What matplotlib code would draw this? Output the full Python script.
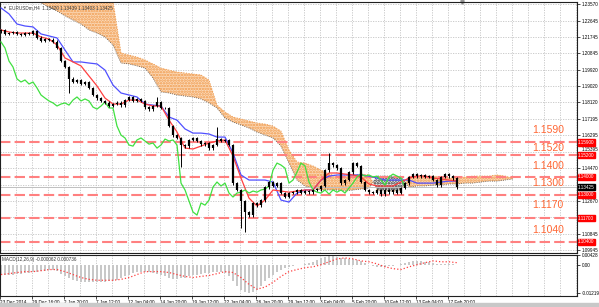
import numpy as np
import matplotlib.pyplot as plt

plt.rcParams['font.family'] = ['Liberation Sans', 'DejaVu Sans']
plt.rcParams['hatch.linewidth'] = 1.2

# EURUSD H4, one candle per 2 bars (close prices)
closes = [
    1.2213, 1.2191, 1.2196, 1.2202, 1.2191, 1.2185, 1.2196, 1.2191, 1.2207, 1.2169,
    1.2152, 1.2163, 1.2158, 1.2147, 1.2113, 1.2041, 1.2008, 1.1942, 1.1925, 1.1936,
    1.1914, 1.1925, 1.1892, 1.1853, 1.1836, 1.1820, 1.1809, 1.1792, 1.1803, 1.1809,
    1.1797, 1.1825, 1.1842, 1.1820, 1.1831, 1.1820, 1.1786, 1.1775, 1.1792, 1.1814,
    1.1781, 1.1781, 1.1681, 1.1631, 1.1615, 1.1576, 1.1570, 1.1604, 1.1615, 1.1598,
    1.1581, 1.1587, 1.1559, 1.1576, 1.1609, 1.1598, 1.1604, 1.1576, 1.1365, 1.1327,
    1.1266, 1.1205, 1.1188, 1.1255, 1.1243, 1.1271, 1.1343, 1.1371, 1.1349, 1.1365,
    1.1310, 1.1288, 1.1310, 1.1315, 1.1327, 1.1310, 1.1321, 1.1315, 1.1327, 1.1332,
    1.1349, 1.1437, 1.1476, 1.1465, 1.1448, 1.1365, 1.1382, 1.1426, 1.1476, 1.1460,
    1.1371, 1.1327, 1.1315, 1.1310, 1.1327, 1.1304, 1.1327, 1.1315, 1.1327, 1.1310,
    1.1338, 1.1365, 1.1399, 1.1415, 1.1404, 1.1410, 1.1399, 1.1404, 1.1382, 1.1354,
    1.1399, 1.1415, 1.1404, 1.1393, 1.13425]
first_open = 1.2207
wick = 0.0008
high_spikes = [(39, 1.1842), (54, 1.1676), (82, 1.1532)]
low_spikes = [(17, 1.1864), (45, 1.1454), (60, 1.1116), (61, 1.1094)]

# ichimoku lines, every 4 bars
tenkan = [1.2213, 1.2202, 1.2196, 1.2196, 1.2196, 1.2174, 1.2163, 1.2130, 1.2058, 1.2036,
          1.2014, 1.1958, 1.1903, 1.1836, 1.1803, 1.1803, 1.1825, 1.1825, 1.1803, 1.1792,
          1.1792, 1.1714, 1.1648, 1.1559, 1.1554, 1.1570, 1.1587, 1.1598, 1.1604, 1.1515,
          1.1393, 1.1282, 1.1238, 1.1271, 1.1327, 1.1321, 1.1315, 1.1321, 1.1327, 1.1327,
          1.1382, 1.1421, 1.1421, 1.1415, 1.1410, 1.1399, 1.1360, 1.1349, 1.1349, 1.1349,
          1.1371, 1.1393, 1.1404, 1.1404, 1.1393, 1.1388, 1.1382, 1.1376]
kijun = [1.2335, 1.2302, 1.2246, 1.2235, 1.2230, 1.2191, 1.2180, 1.2169, 1.2102, 1.2036,
         1.2036, 1.2030, 1.2025, 1.1991, 1.1908, 1.1864, 1.1853, 1.1842, 1.1803, 1.1797,
         1.1792, 1.1731, 1.1714, 1.1665, 1.1642, 1.1642, 1.1637, 1.1620, 1.1620, 1.1532,
         1.1410, 1.1382, 1.1382, 1.1382, 1.1371, 1.1271, 1.1260, 1.1310, 1.1327, 1.1327,
         1.1382, 1.1404, 1.1410, 1.1410, 1.1410, 1.1410, 1.1404, 1.1393, 1.1382, 1.1382,
         1.1382, 1.1382, 1.1365, 1.1365, 1.1365, 1.1371, 1.1376, 1.1376]
# senkou spans, from bar 16, every 4 bars
span_a = [1.2545, 1.2545, 1.2545, 1.2545, 1.2545, 1.2545, 1.2545, 1.2545, 1.2545, 1.2545,
          1.2435, 1.2086, 1.2074, 1.2063, 1.2047, 1.2025, 1.2002, 1.1991, 1.1980, 1.1975,
          1.1969, 1.1964, 1.1936, 1.1797, 1.1759, 1.1731, 1.1720, 1.1709, 1.1698, 1.1692,
          1.1681, 1.1653, 1.1548, 1.1482, 1.1476, 1.1460, 1.1437, 1.1415, 1.1404, 1.1404,
          1.1410, 1.1415, 1.1410, 1.1327, 1.1321, 1.1321, 1.1327, 1.1399, 1.1399, 1.1404,
          1.1404, 1.1399, 1.1393, 1.1393, 1.1399, 1.1404, 1.1404, 1.1404, 1.1410, 1.1404,
          1.1393]
span_b = [1.2379, 1.2363, 1.2340, 1.2318, 1.2291, 1.2268, 1.2246, 1.2213, 1.2196, 1.2174,
          1.2130, 1.2030, 1.2025, 1.2014, 1.2002, 1.1947, 1.1870, 1.1864, 1.1853, 1.1847,
          1.1842, 1.1831, 1.1809, 1.1781, 1.1725, 1.1703, 1.1687, 1.1670, 1.1648, 1.1631,
          1.1615, 1.1570, 1.1476, 1.1382, 1.1349, 1.1338, 1.1327, 1.1327, 1.1327, 1.1321,
          1.1327, 1.1332, 1.1338, 1.1404, 1.1404, 1.1404, 1.1399, 1.1343, 1.1349, 1.1349,
          1.1354, 1.1354, 1.1360, 1.1360, 1.1365, 1.1365, 1.1371, 1.1376, 1.1376, 1.1382,
          1.1388]

# MACD(12,26,9): main every 2 bars, signal every 4 bars
macd_hist = [-0.0043, -0.0043, -0.0047, -0.0043, -0.0039, -0.0039, -0.0034, -0.0034, -0.0030,
             -0.0030, -0.0026, -0.0026, -0.0021, -0.0021, -0.0026,
             -0.0039, -0.0051, -0.0060, -0.0068, -0.0073,
             -0.0077, -0.0077, -0.0077, -0.0077, -0.0077, -0.0077, -0.0077, -0.0073, -0.0073, -0.0068,
             -0.0060, -0.0051, -0.0043, -0.0034, -0.0030,
             -0.0030, -0.0030, -0.0030, -0.0034, -0.0039, -0.0047, -0.0051,
             -0.0060, -0.0064, -0.0064, -0.0060, -0.0056, -0.0051,
             -0.0047, -0.0043, -0.0039, -0.0034, -0.0034, -0.0030, -0.0030, -0.0030, -0.0034,
             -0.0051, -0.0073, -0.0094, -0.0111, -0.0120,
             -0.0124, -0.0120, -0.0111, -0.0094, -0.0073,
             -0.0056, -0.0043, -0.0030, -0.0021, -0.0013,
             -0.0009, -0.0004, 0.0,
             0.0, 0.0004, 0.0009, 0.0013, 0.0021, 0.0030, 0.0034, 0.0039, 0.0039, 0.0034,
             0.0030, 0.0030, 0.0026, 0.0026, 0.0021, 0.0017, 0.0009, 0.0, -0.0004, -0.0009,
             -0.0009, -0.0009, -0.0004, -0.0004, 0.0, 0.0004, 0.0009, 0.0013, 0.0017, 0.0017,
             0.0017, 0.0013, 0.0013, 0.0009, 0.0004, 0.0004, 0.0004, 0.0004, 0.0004, 0.0]
macd_signal = [-0.0043, -0.0039, -0.0034, -0.0030, -0.0030, -0.0026, -0.0021, -0.0021, -0.0030, -0.0043,
               -0.0056, -0.0064, -0.0068, -0.0068, -0.0068, -0.0064, -0.0056, -0.0043, -0.0030, -0.0030,
               -0.0030, -0.0034, -0.0043, -0.0051, -0.0056, -0.0051, -0.0047, -0.0039, -0.0030, -0.0034,
               -0.0056, -0.0086, -0.0107, -0.0098, -0.0077, -0.0051, -0.0030, -0.0021, -0.0013, -0.0009,
               0.0, 0.0013, 0.0026, 0.0030, 0.0026, 0.0017, 0.0013, 0.0004, -0.0009, -0.0017,
               -0.0021, -0.0009, 0.0, 0.0009, 0.0017, 0.0013, 0.0013, 0.0009]

levels = [1.1590, 1.1520, 1.1400, 1.1300, 1.1170, 1.1040]
level_label_dy = [7, 2, 6, 7, 8, 7]   # px above the line
price_ticks = [1.23570, 1.22645, 1.21745, 1.20845, 1.19920, 1.19020, 1.18120, 1.17195,
               1.16295, 1.15395, 1.14470, 1.13570, 1.12670, 1.11770, 1.10845, 1.09945]
hidden_ticks = [1.13570, 1.11770]   # covered by the price boxes
time_labels = ['23 Dec 2014', '29 Dec 16:00', '2 Jan 20:00', '7 Jan 12:00', '12 Jan 04:00',
               '14 Jan 20:00', '19 Jan 12:00', '22 Jan 04:00', '26 Jan 20:00', '29 Jan 12:00',
               '3 Feb 04:00', '5 Feb 20:00', '10 Feb 12:00', '13 Feb 04:00', '17 Feb 20:00']
last_price = 1.13425
header = 'EURUSDm,H4  1.13420 1.13439 1.13403 1.13425'

ymin, ymax = 1.0978, 1.2368

fig = plt.figure(figsize=(5.99, 3.07), dpi=100)
ax = fig.add_axes([0.0, 0.1759, 0.9633, 0.8176])
ax2 = fig.add_axes([0.0, 0.0358, 0.9633, 0.1336], sharex=ax)

small = 3.3
grid_kw = dict(color='#c4c4c4', lw=0.6, ls=(0, (1.5, 1.5)), zorder=0)

# grid
for gx in np.arange(7.5, 288, 8):
    ax.axvline(gx, **grid_kw)
    ax2.axvline(gx, **grid_kw)
for gy in price_ticks:
    ax.axhline(gy, **grid_kw)

# cloud
cloud_x = 16 + np.arange(len(span_a)) * 4
sa = np.clip(np.array(span_a), ymin, ymax + 0.0005)
sb = np.clip(np.array(span_b), ymin, ymax + 0.0005)
up = sa >= sb
ax.fill_between(cloud_x, sa, sb, where=up, interpolate=True, facecolor='#fbd9b8',
                edgecolor='#f09a4c', hatch='......', linewidth=0, zorder=1)
ax.fill_between(cloud_x, sa, sb, where=~up, interpolate=True, facecolor='#e4e4e4',
                edgecolor='#303030', hatch='......', linewidth=0, zorder=1)
ax.plot(cloud_x, sa, color='#f09a4c', lw=0.7, ls=':', zorder=1)
ax.plot(cloud_x, sb, color='#505050', lw=0.6, ls=':', zorder=1)

# level lines
for lv, dy in zip(levels, level_label_dy):
    ax.axhline(lv, color='#ff8080', lw=1.5, dashes=(5, 2), zorder=2)
    ax.annotate('%.4f' % lv, xy=(0.95, lv), xycoords=ax.get_yaxis_transform(),
                xytext=(0, dy * 0.72), textcoords='offset points', ha='center', va='bottom',
                fontsize=7.5, color='#ff6633', zorder=6)
ax.axhline(last_price, color='#c0c0c0', lw=0.7, zorder=2)

# candles
cx = np.arange(len(closes)) * 2
c = np.array(closes)
o = np.array([first_open] + closes[:-1])
hi = np.maximum(o, c) + wick
lo = np.minimum(o, c) - wick
for i, v in high_spikes:
    hi[i] = v
for i, v in low_spikes:
    lo[i] = v
ax.vlines(cx, lo, hi, color='black', lw=0.7, zorder=4)
ax.vlines(cx, np.minimum(o, c), np.maximum(o, c), color='black', lw=1.6, zorder=4)

# ichimoku lines
lx = np.arange(len(tenkan)) * 4
ax.plot(lx, kijun, color='#5050ff', lw=0.9, zorder=3)
ax.plot(lx, tenkan, color='#ff4040', lw=0.9, zorder=3)
ax.plot(cx[13:] - 26, c[13:], color='#40e040', lw=0.9, zorder=3)

ax.set_xlim(-0.5, 288)
ax.set_ylim(ymin, ymax)
ax.yaxis.tick_right()
ax.set_yticks(price_ticks)
ax.set_yticklabels(['' if t in hidden_ticks else '%.5f' % t for t in price_ticks])
ax.tick_params(axis='y', labelsize=small, length=2, width=0.5, pad=1.5)
ax.tick_params(axis='x', bottom=False, labelbottom=False)
for t, lbl in zip(price_ticks, ax.get_yticklabels()):
    if t == 1.15395:
        lbl.set_va('bottom')

for lv in levels:
    ax.text(1.002, lv, '%.5f' % lv, transform=ax.get_yaxis_transform(), fontsize=small,
            color='white', va='center', ha='left', clip_on=False, zorder=10,
            bbox=dict(boxstyle='square,pad=0.12', fc='#ff0000', ec='#ff0000'))
ax.text(1.002, last_price, '%.5f' % last_price, transform=ax.get_yaxis_transform(),
        fontsize=small, color='white', va='center', ha='left', clip_on=False, zorder=10,
        bbox=dict(boxstyle='square,pad=0.12', fc='black', ec='black'))

ax.text(0.004, 0.985, '\u25bc', transform=ax.transAxes, fontsize=2.8, va='top', ha='left',
        color='#333333')
ax.text(0.016, 0.988, header, transform=ax.transAxes, fontsize=small, va='top', ha='left',
        color='#333333')
ax.plot([230.5], [1.0], marker='v', ms=2.5, color='#909090', transform=ax.get_xaxis_transform(),
        clip_on=False)

# MACD
hx = np.arange(len(macd_hist)) * 2
ax2.bar(hx, macd_hist, width=1.0, color='#c8c8c8', zorder=2)
ax2.plot(np.arange(len(macd_signal)) * 4, macd_signal, color='#ff4040', lw=0.9, ls=':', zorder=3)
ax2.set_ylim(-0.0137, 0.00428)
ax2.yaxis.tick_right()
ax2.set_yticks([0.00428, 0.0, -0.01219])
ax2.set_yticklabels(['0.00428', '0.00', '-0.01219'])
ax2.tick_params(axis='y', labelsize=small, length=2, width=0.5, pad=1.5)
ax2.text(0.004, 0.95, 'MACD(12,26,9) -0.000062 0.000736', transform=ax2.transAxes,
         fontsize=small, va='top', ha='left', color='#333333')

ax2.set_xticks(np.arange(len(time_labels)) * 16 - 0.5)
ax2.set_xticklabels(time_labels)
ax2.tick_params(axis='x', labelsize=small, length=2, width=0.5, pad=1)
for lbl in ax2.get_xticklabels():
    lbl.set_ha('left')

for a in (ax, ax2):
    for s in a.spines.values():
        s.set_linewidth(0.8)
        s.set_color('#202020')

fig.patches.append(plt.Rectangle((0, 0), 1, 0.013, transform=fig.transFigure,
                                 color='#c8c8c8', zorder=0))
fig.patches.append(plt.Rectangle((0.067, 0), 0.064, 0.013, transform=fig.transFigure,
                                 color='#eeeeee', zorder=1))

fig.savefig('out.png', dpi=100)
